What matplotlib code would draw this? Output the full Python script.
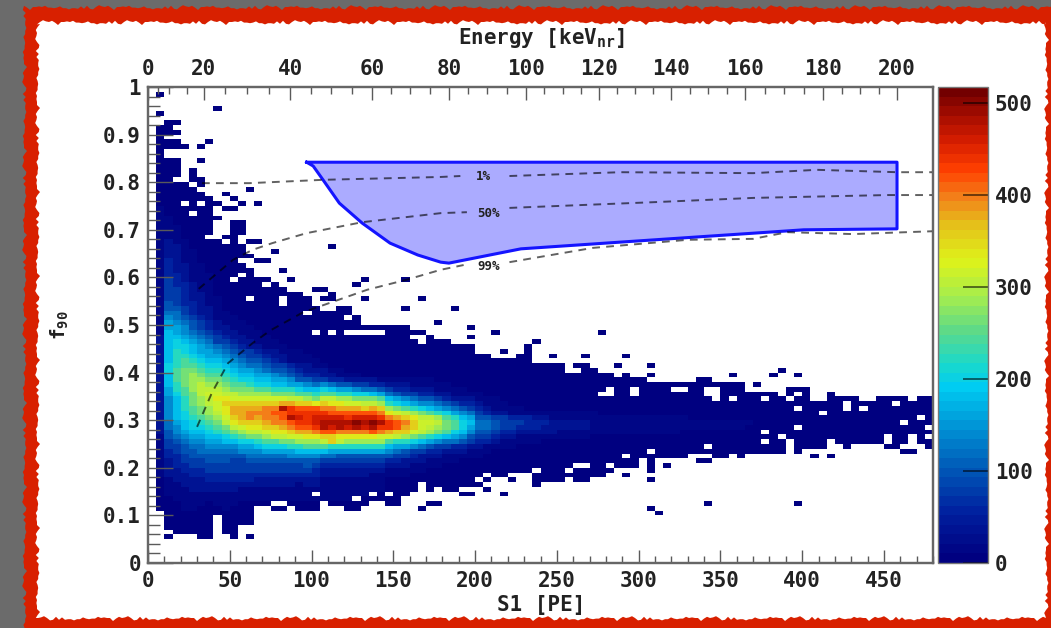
import numpy as np
import matplotlib
matplotlib.use("Agg")
import matplotlib.pyplot as plt
from matplotlib.colors import LinearSegmentedColormap
from matplotlib.cm import ScalarMappable
from matplotlib.colors import Normalize

plt.rcParams['font.family'] = ['DejaVu Sans Mono']
plt.rcParams['font.weight'] = 'bold'
plt.rcParams['mathtext.fontset'] = 'custom'
plt.rcParams['mathtext.rm'] = 'DejaVu Sans Mono:bold'
plt.rcParams['mathtext.default'] = 'rm'

# ---------- data ----------
# one string per f90 bin (key = lower edge in hundredths), one character per 5 PE bin.
# '.' empty, a=5, b=20, c=40 ... z=500 counts. Spaces only group the characters by ten.
hist_rows = {
98: ".a",
95: "........a",
94: ".a",
92: "..aa",
91: ".aa",
90: ".aaa",
89: ".a",
88: ".aaa...a",
87: ".aaaa.a",
86: ".a",
85: ".a",
84: ".aaa..a",
83: ".aaa",
82: ".aaa.a",
81: ".aaa.a",
80: ".aa..aa",
79: ".aaaa.a",
78: ".aaaaa.... ..a",
77: ".aaaaaa..a",
76: ".aaaaaaa.. a",
75: ".aaa.a.aa. .a.a",
74: ".baaaaaa.a a",
73: ".baaa.aa",
72: ".bbaaaaaa",
71: ".bbaaaaa.. aa",
70: ".bbbaaaa.. aa",
69: ".bbbaaaa.. aa",
68: ".bbbaaa..a a",
67: ".bcbbaaaa. a.aa",
66: ".bccbaaaaa aa........ ..a",
65: ".bccbbaaaa aa...a",
64: ".bccbbaaaa aaa",
63: ".bdcbbaaaa a..aa",
62: ".bdccbbaaa aa",
61: ".bdccbbaaa aaa...a",
60: ".bddcbbbaa a.a",
59: ".bedcbbbaa .aaaa..a.. ......a... .a",
58: ".beddcbbaa aaaa.a.... .....a",
57: ".beedcbbaa aaaaaaa... aa",
56: ".beedccbaa aaaaaaaaa. ..a",
55: ".beedccbba aa.aaa.aaa .aa...a... ...a",
54: ".bfeddcbba aaaaaa.aaa",
53: ".bffedccba aaaaaaaaaa a..aa..... .a.....a",
52: ".bggedccbb aaaaaaaaa. aaaaa",
51: ".bhgfedcbb baaaaaaaaa aaaa.a",
50: ".bihgfedcb bbaaaaaaaa aaaaaa.... .....a",
49: ".biihfedcc bbbaaaaaaa aaaaaaaaaa aa.......a",
48: ".bjihgfedc cbbbaaaaaa .a.a.....a aaaa...... ..a....... .....a",
47: ".cjjihgfed ccbbbaaaaa aaaaaaaaaa aa..a....a",
46: ".cjkjihgee dccbbbaaaa aaaaaaaaaa aaa.aaa... .......a",
45: ".cjkkjihgf edccbbbaaa aaaaaaaaaa aaaaaaaaaa ......a",
44: ".cjlkjiihg feedccbbba aaaaaaaaaa aaaaaaaaaa ...a..a",
43: ".cjllkjiih gfeedccbbb aaaaaaaaaa aaaaaaaaaa aa...aa..a ...a....a",
42: ".cjlmlkjji hgffedcbbb baaaaaaaaa aaaaaaaaaa aaaaaaa",
41: ".cklmmlkkj ihggfeedcc bbaaaaaaaa aaaaaaaaaa aaaaaaaaaa a.aa...a.. .a",
40: ".ckmnnmllk jiihgffedc ccbbaaaaaa aaaaaaaaaa aaaaaaaaaa a..aa..... .......... .......a",
39: ".cjmnonmml kjjiihgfed dccbbbaaaa aaaaaaaaaa aaaaaaaaaa aaaaaaa.a. .a........ .a....a..a",
38: ".cjmnoonnm lkkjjiihff eeddccccbb bbbbbaaaaa aaaaaaaaaa aaaaaaaaaa a......aa",
37: ".cjlnopoon mmlkkjjiih ghgffeeddc ccbbbbbaaa aaaaaaaaaa aaaaaaaaaa aaaaaaaaaa aaa.a",
36: ".cilmopppo nnnmmlllkj jkjiihggfe ddcccbbbba aaaaaaaaaa aaaaaa.aa. aaaa..aa.. aaa.....aa a",
35: ".cikmnpqqp poooonnnmm lmmllkkjig feeddccbbb baaaaaaaaa aaaaa..aa. aaaaaaaa.. aaaaaaa.a. a..a",
34: ".chjlnoprr qqqqqqqppo nppoonnnmj ihgffedccc bbbaaaaaaa aaaaaaaaaa aaaaaaaaa. a.aaa.aa.a a..aaaa..a aaa.aa",
33: ".chjlnopqs ssssssttss rsrrqqppol kjihhgfedd cbbbaaaaaa aaaaaaaaaa aaaaaaaaaa aaaaaaaaaa aaaaa.aaaa a.aaaa",
32: ".chjlmnoqr ttttuuywvv vuutttstso nmlkjihgfe dcbbbbaaaa aaaaaaaaaa aaaaaaaaaa aaaaaaaaa. aaaaa.a.aa aaaaaa",
31: ".chjkmnopr ttuuuvvwww wwvvvvvvur qponmlkihg edccbbbbbb bbbbbaaaaa aaaaaaaaaa aaaaaaaaaa aa.aaaaaaa aaaaaa",
30: ".chjklmnoq stutuuvyxw xxxxwxxxwu tsrppomlji ffeedddccb bbbbbbbbbb bbbbbbaaaa aaaaaaaaaa aaaaaaaaaa aaaa.a",
29: ".cgijklmnp rssstuuvww xyyyyzyzyw vusqqpnmkj ggfeeedddc ccccbbbbbb bbbbbbbbbb bbbbaaaaaa aaaaaaaaaa aa.aaa",
28: ".cghjkklmn pqrrsstuvv wyxyxyxyww vtsqponmki ggfeedddcc ccccbbbbbb bbbbbbbbbb bbbaaaaaa. aaaaaaaaaa aaaaa.",
27: ".cfhijjklm noppqrrstt uvvuuuuvut ssqponmkjh ffeddccccc bbbbbbbbbb bbbbbaaaaa aaaaa.aaaa aaaaaaaaaa aaaaaa",
26: ".bfghiijjk lmnnoppqqr rssrrrrrqq ponmlkjihf eedccbbbbb bbbbaaaaaa aaaaaaaaaa aaaaaaa.aa aaaaaaaaaa .aa.a.",
25: ".befghhiij jkklmmnnoo opspooooom llkjihggfe ddcbbbbbaa aaaaaaaaaa aaaaaaaaaa aaaaa.aa.a aaa.aaaaaa .aa.aa",
24: ".beefgghhh hiijkkkllm mmlllllllj iihgfeeddc cbbbbaaaaa aaaaaaaaaa aaaaaaaa.a aaaaaaaa.a aaa..a.... aa...a",
23: ".bdeffgggg ghhhiiiijj jjiiiiiiih gfeeddcccb bbaaaaaaaa aaaaaaaaaa a.aaaaaaaa aaaaaaaa.a .......... ..aa",
22: ".bddefffff ffggggghhh hggfffffff eedcccbbbb baaaaaaaaa aaaaaaaa.a aaaaaa...a a.a....... .a.a",
21: ".bcdeeefff eeffffffff feeeeeeeed dcccbbbbaa aaaaaaaaaa aaaaaaaaaa .a.....aa",
20: ".bcddeeeee eeeeeeeeef eddddddddc ccbbbbaaaa aaaaaaaaaa aa..aa.aaa .a.a",
19: ".bccdddeee eeeeeeeeee dccccccccb bbbbaaaaaa aaaaaaa.aa a.aaaaa... .a",
18: ".bcccddddd dddddddddd dccccccbbb bbaaaaaaaa a.aa...aaa aaaaaa..a.",
17: ".abccccddd dddccccccc cbbbbbbbba aaaaaaaaaa .a..a..aaa a.aa...... .a",
16: ".abbcccccc ccccccccbc cbbbbbbbba aaa.aaaaaa a......a",
15: ".abbbccccc cbbbbbbbbb bbbbbbbbba aaa.a.aa.. .a",
14: ".abbbbbbbb bbbbbbbbbb .bbbbbb.a. aa......aa ...a",
13: ".aabbbbbbb bbbbbbbbbb bbbbb.aaaa a",
12: ".aaabbbabb baaaa..aaa a.aaaaa..a a...aa.... .......... .......... ........a. .........a",
11: ".aaabbaaab aaa..aa.aa a...aa.... ...a...... .......... .......... .a",
10: "..aaaaaaaa aaa....... .......... .......... .......... .......... ..a",
9: "..aaaaaa.a aaa",
8: "..aaaaaa.a aaa",
7: "..aaaaaa.a a",
6: "...aaaaa.a a",
5: "..a...aa.. a.a",
}
count_letters = "abcdefghijklmnopqrstuvwxyz"
count_values = [5, 20, 40, 60, 80, 100, 120, 140, 160, 180, 200, 220, 240, 260, 280,
                300, 320, 340, 360, 380, 400, 420, 440, 460, 480, 500]

# keV tick labels and their places on the S1 axis
energy_labelled = [0, 20, 40, 60, 80, 100, 120, 140, 160, 180, 200]
energy_knots = [0, 5, 10, 15, 20, 40, 60, 80, 100, 120, 140, 160, 180, 200]
energy_knot_s1 = [0, 6, 13, 24, 34, 87, 137, 184, 231, 276, 320, 365, 413, 458]

# acceptance curves
c1_s1 = [33, 62, 107, 179, 191, np.nan, 221, 289, 370, 409, 458, 480]
c1_f = [.798, .798, .805, .811, .813, np.nan, .813, .821, .819, .826, .821, .821]
c50_s1 = [31, 52, 64, 76, 97, 131, 179, 195, np.nan, 221, 309, 370, 452, 480]
c50_f = [.576, .637, .658, .672, .693, .716, .735, .737, np.nan, .746, .758, .767, .773, .773]
c99_s1 = [30, 39, 49, 64, 75, 95, 134, 158, 179, 193, np.nan, 221, 272, 330, 370, 391, 431, 480]
c99_f = [.286, .357, .420, .462, .489, .527, .574, .595, .616, .626, np.nan, .632, .662, .679, .681, .695, .691, .697]

# search box
box_s1 = [97, 101, 107, 117, 131, 148, 165, 179, 184, 228, 297, 401, 458, 458, 97]
box_f = [.842, .834, .805, .756, .714, .672, .647, .632, .630, .660, .676, .700, .702, .842, .842]

cmap_values = [0, 50, 100, 150, 190, 215, 250, 290, 330, 370, 400, 430, 460, 490, 517]
cmap_colors = [(0, 0, .5), (0, .12, .62), (0, .35, .72), (0, .6, .85), (0, .8, .95),
               (.1, .85, .8), (.35, .85, .55), (.65, .93, .3), (.87, .95, .1), (.9, .75, .1),
               (.95, .5, .1), (1, .25, 0), (.85, .12, 0), (.65, .05, 0), (.45, 0, 0)]
VMAX = 517

# hand-typed roughness of the painted frame, in pixels
jag = [0, 2, -1, 3, 1, -2, 2, 0, 4, -1, 1, 3, -2, 0, 2, 5, -1, 1, -3, 2, 0, 3, 1, -1, 4, 0, -2, 2]

# ---------- decode ----------
lookup = dict(zip(count_letters, count_values))
counts = np.full((100, 96), np.nan)
for row, text in hist_rows.items():
    text = text.replace(" ", "")[:96]
    for col, ch in enumerate(text):
        if ch in lookup:
            counts[row, col] = lookup[ch]
counts = np.ma.masked_invalid(counts)

W, H = 1051, 628
fig = plt.figure(figsize=(W / 100, H / 100), dpi=100, facecolor="#6b6b6b")


def fx(p):
    return p / W


def fy(p):
    return 1 - p / H


def rough_rect(x0, y0, x1, y1, step=3, amp=.6, shift=0):
    pts = []
    n = 0
    def j():
        nonlocal n
        n += 1
        return jag[(n * 5 + shift) % len(jag)] * amp
    for x in np.arange(x0, x1, step):
        pts.append((x, y0 + j()))
    for y in np.arange(y0, y1, step):
        pts.append((x1 + j(), y))
    for x in np.arange(x1, x0, -step):
        pts.append((x, y1 + j()))
    for y in np.arange(y1, y0, -step):
        pts.append((x0 + j(), y))
    return np.array(pts)


bg = fig.add_axes([0, 0, 1, 1], zorder=-5)
bg.set_xlim(0, W)
bg.set_ylim(H, 0)
bg.axis("off")
bg.fill(*rough_rect(24, 7, 1060, 640).T, color="#d82000", lw=0)
bg.fill(*rough_rect(37, 22, 1046, 618, shift=3).T, color="white", lw=0)

ax = fig.add_axes([fx(148), fy(563), fx(933 - 148), (563 - 87) / H])
cmap = LinearSegmentedColormap.from_list(
    "root", [(v / VMAX, c) for v, c in zip(cmap_values, cmap_colors)], N=50)
ax.pcolormesh(np.arange(0, 481, 5), np.arange(0, 101) / 100, counts, cmap=cmap,
              vmin=0, vmax=VMAX, linewidth=0, rasterized=True)
ax.fill(box_s1, box_f, color=(0, 0, 1), alpha=.33, lw=0, zorder=3)
ax.plot(box_s1, box_f, color="#1414ff", lw=2.2, zorder=4, solid_joinstyle="round")

for sx, sy in [(c1_s1, c1_f), (c50_s1, c50_f), (c99_s1, c99_f)]:
    ax.plot(sx, sy, color="black", alpha=.62, lw=1.4, dashes=(4, 3.2), zorder=5)
for label, lx, ly in [("1%", 205, .813), ("50%", 208, .735), ("99%", 208, .622)]:
    ax.text(lx, ly, label, ha="center", va="center", fontsize=9, color="#222222", zorder=6)

ax.set_xlim(0, 480)
ax.set_ylim(0, 1)
ax.set_axisbelow(False)
ax.set_xticks(np.arange(0, 451, 50))
ax.set_xticks(np.arange(0, 481, 10), minor=True)
ax.set_yticks(np.arange(0, 1.01, .1))
ax.set_yticklabels(["0", "0.1", "0.2", "0.3", "0.4", "0.5", "0.6", "0.7", "0.8", "0.9", "1"])
ax.set_yticks(np.arange(0, 1.001, .02), minor=True)
tick_col = "#5a5a5a"
ax.tick_params(axis="x", which="major", direction="in", length=9.4, width=1, color=tick_col,
               labelsize=15, pad=6, labelcolor="#222222")
ax.tick_params(axis="x", which="minor", direction="in", length=5, width=1, color=tick_col)
ax.tick_params(axis="y", which="major", direction="in", length=18, width=1, color=tick_col,
               labelsize=15, pad=5, labelcolor="#222222")
ax.tick_params(axis="y", which="minor", direction="in", length=8.6, width=1, color=tick_col)

top = ax.twiny()
top.set_xlim(0, 480)
top.set_xticks(np.interp(energy_labelled, energy_knots, energy_knot_s1))
top.set_xticklabels([str(v) for v in energy_labelled])
top.set_xticks(np.interp(np.arange(0, 201, 5), energy_knots, energy_knot_s1), minor=True)
top.tick_params(axis="x", which="major", direction="in", length=9.4, width=1, color=tick_col,
                labelsize=15, pad=6, labelcolor="#222222")
top.tick_params(axis="x", which="minor", direction="in", length=5, width=1, color=tick_col)
for a in (ax, top):
    for s in a.spines.values():
        s.set_color("#666666")
        s.set_linewidth(1.6)

cax = fig.add_axes([fx(938), fy(563), fx(50), (563 - 87) / H])
cb = fig.colorbar(ScalarMappable(Normalize(0, VMAX), cmap), cax=cax)
cb.set_ticks([0, 100, 200, 300, 400, 500])
cax.tick_params(axis="y", direction="in", length=18, width=1.4, color=(0, 0, 0, .55),
                labelsize=15, pad=5, labelcolor="#222222")
for s in cax.spines.values():
    s.set_color("#777777")
    s.set_linewidth(1)

fig.text(fx(541), fy(38), r"Energy [keV$_{nr}$]", ha="center", va="center", fontsize=15, color="#222222")
fig.text(fx(541), fy(605), "S1 [PE]", ha="center", va="center", fontsize=15, color="#222222")
fig.text(fx(60), fy(325), r"f$_{90}$", ha="center", va="center", rotation=90, fontsize=14, color="#222222")

fig.savefig("out.png", dpi=100, facecolor=fig.get_facecolor())
